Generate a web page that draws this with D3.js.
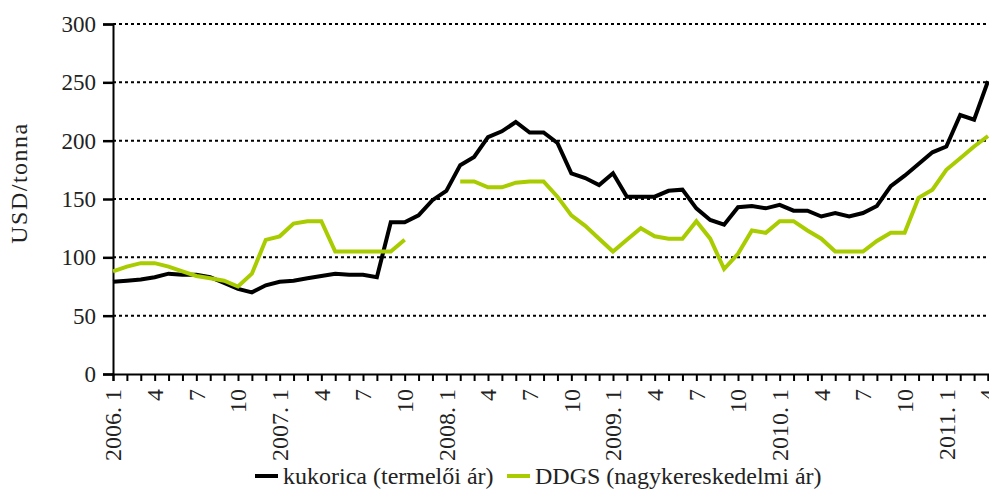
<!DOCTYPE html>
<html>
<meta charset="utf-8">
<style>
    body { margin: 0; background: #fff; }
</style>
<body>
<script src="https://d3js.org/d3.v7.min.js"></script>
<div id="chart"></div>
<script>
    // month labels, 2006.1 .. 2011.4
    var months = [];
    for (var yr = 2006; yr <= 2011; yr++) {
        for (var m = 1; m <= 12; m++) {
            if (yr == 2011 && m > 4) break;
            months.push(yr + ". " + m);
        }
    }

    var kukorica = [79, 80, 81, 83, 86, 85, 85, 83, 78, 73, 70, 76,
                    79, 80, 82, 84, 86, 85, 85, 83, 130, 130, 136, 149,
                    157, 179, 186, 203, 208, 216, 207, 207, 198, 172, 168, 162,
                    172, 152, 152, 152, 157, 158, 142, 132, 128, 143, 144, 142,
                    145, 140, 140, 135, 138, 135, 138, 144, 161, 170, 180, 190,
                    195, 222, 218, 251];

    var ddgs = [88, 92, 95, 95, 92, 88, 84, 82, 80, 75, 86, 115,
                118, 129, 131, 131, 105, 105, 105, 105, 105, 115, null, null,
                null, 165, 165, 160, 160, 164, 165, 165, 152, 136, 127, 116,
                105, 115, 125, 118, 116, 116, 131, 116, 90, 103, 123, 121,
                131, 131, 123, 116, 105, 105, 105, 114, 121, 121, 151, 158,
                175, 185, 195, 204];

    var yTicks = [0, 50, 100, 150, 200, 250, 300];
    var seriesNames = ["kukorica (termelői ár)", "DDGS (nagykereskedelmi ár)"];
    var seriesColors = ["#000000", "#a8cc00"];

    var font = "'Liberation Serif', 'DejaVu Serif', serif";
    var width = 989, height = 497;
    var margin = {top: 24, right: 1, bottom: 123, left: 113};

    var svg = d3.select("#chart").append("svg")
        .attr("width", width)
        .attr("height", height)
        .attr("font-family", font);

    var x = d3.scalePoint()
        .domain(months)
        .range([margin.left, width - margin.right]);

    var y = d3.scaleLinear()
        .domain([0, 300])
        .range([height - margin.bottom, margin.top]);

    // gridlines
    svg.append("g")
        .selectAll("line")
        .data(yTicks.filter(function (d) { return d > 0; }))
        .enter().append("line")
        .attr("x1", margin.left)
        .attr("x2", width - margin.right)
        .attr("y1", function (d) { return y(d); })
        .attr("y2", function (d) { return y(d); })
        .attr("stroke", "#000")
        .attr("stroke-width", 2)
        .attr("stroke-dasharray", "3,3");

    // y axis
    var yAxis = svg.append("g")
        .attr("transform", "translate(" + margin.left + ",0)")
        .call(d3.axisLeft(y).tickValues(yTicks).tickSize(10).tickPadding(7));
    yAxis.attr("font-family", font).attr("font-size", 23);
    yAxis.selectAll("line").attr("stroke", "#000").attr("stroke-width", 2.5);
    yAxis.select(".domain").attr("stroke", "#000").attr("stroke-width", 2);
    yAxis.selectAll("text").attr("fill", "#222");

    // x axis
    var labelFor = function (d) {
        var m = +d.split(". ")[1];
        if (m == 1) return d;
        if ((m - 1) % 3 == 0) return String(m);
        return "";
    };
    var xAxis = svg.append("g")
        .attr("transform", "translate(0," + y(0) + ")")
        .call(d3.axisBottom(x).tickSize(7).tickPadding(9).tickFormat(labelFor));
    xAxis.attr("font-family", font).attr("font-size", 24);
    xAxis.selectAll("line").attr("stroke", "#000").attr("stroke-width", 2);
    xAxis.select(".domain").attr("stroke", "#000").attr("stroke-width", 2);
    xAxis.selectAll("text")
        .attr("fill", "#222")
        .attr("transform", "rotate(-90)")
        .attr("text-anchor", "end")
        .attr("x", -15)
        .attr("y", 0)
        .attr("dy", "0.33em");

    // y label
    svg.append("text")
        .attr("transform", "translate(27,183) rotate(-90)")
        .attr("text-anchor", "middle")
        .attr("font-size", 24)
        .attr("letter-spacing", 1.5)
        .attr("fill", "#222")
        .text("USD/tonna");

    // lines
    var line = d3.line()
        .defined(function (d) { return d != null; })
        .x(function (d, i) { return x(months[i]); })
        .y(function (d) { return y(d); });

    [kukorica, ddgs].forEach(function (s, k) {
        svg.append("path")
            .datum(s)
            .attr("fill", "none")
            .attr("stroke", seriesColors[k])
            .attr("stroke-width", 4)
            .attr("d", line);
    });

    // legend
    var legendX = [255, 507];
    seriesNames.forEach(function (name, k) {
        svg.append("line")
            .attr("x1", legendX[k]).attr("x2", legendX[k] + 23)
            .attr("y1", 476).attr("y2", 476)
            .attr("stroke", seriesColors[k])
            .attr("stroke-width", 4);
        svg.append("text")
            .attr("x", legendX[k] + 28)
            .attr("y", 484)
            .attr("font-size", 24)
            .attr("fill", "#222")
            .text(name);
    });
</script>
</body>
</html>
